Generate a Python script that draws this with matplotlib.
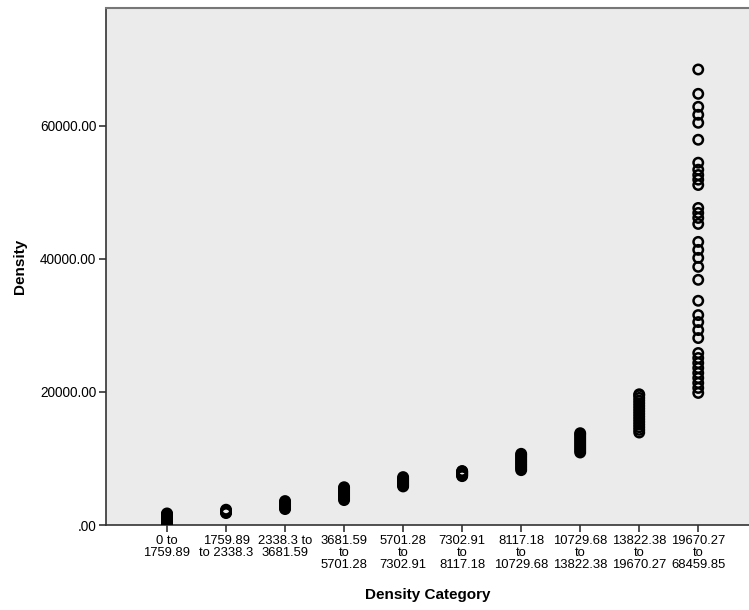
import matplotlib.pyplot as plt

plt.rcParams['font.family'] = ['Liberation Sans', 'DejaVu Sans']

# category labels on the x axis
categories = ['0 to\n1759.89', '1759.89\nto 2338.3', '2338.3 to\n3681.59',
              '3681.59\nto\n5701.28', '5701.28\nto\n7302.91', '7302.91\nto\n8117.18',
              '8117.18\nto\n10729.68', '10729.68\nto\n13822.38', '13822.38\nto\n19670.27',
              '19670.27\nto\n68459.85']

# density values observed in each category
cat0 = [0, 120, 260, 400, 520, 650, 780, 900, 1020, 1150, 1280, 1400, 1520, 1640, 1740]
cat1 = [1800, 1900, 2000, 2150, 2300]
cat2 = [2400, 2550, 2700, 2850, 3000, 3150, 3300, 3450, 3600]
cat3 = [3750, 3950, 4150, 4350, 4550, 4750, 4950, 5150, 5350, 5550, 5680]
cat4 = [5800, 5950, 6100, 6250, 6400, 6550, 6700, 6850, 7000, 7200]
cat5 = [7350, 7450, 7550, 7650, 7750, 7850, 7950, 8050, 8110]
cat6 = [8250, 8500, 8750, 9000, 9250, 9500, 9750, 10000, 10250, 10500, 10700]
cat7 = [10900, 11200, 11500, 11800, 12100, 12400, 12700, 13000, 13300, 13600, 13800]
cat8 = [13900, 14300, 14700, 15100, 15500, 15900, 16300, 16700, 17100, 17500,
        17900, 18300, 18700, 19100, 19500, 19650]
cat9 = [19850, 20600, 21350, 22100, 22850, 23600, 24350, 25100, 25850,
        28100, 29300, 30500, 31550, 33700, 36850, 38800, 40150, 41350, 42550,
        45250, 46150, 46900, 47650, 51100, 51900, 52600, 53400, 54450,
        57900, 60450, 61650, 62850, 64800, 68459.85]
groups = [cat0, cat1, cat2, cat3, cat4, cat5, cat6, cat7, cat8, cat9]

fig = plt.figure(figsize=(7.49, 6.10), dpi=100)
ax = fig.add_axes([0.1415, 0.1393, 0.8585, 0.8476])
ax.set_facecolor('#ebebeb')

for i, vals in enumerate(groups):
    ax.scatter([i] * len(vals), vals, s=46, facecolors='none',
               edgecolors='black', linewidths=1.8, zorder=3)

ax.set_xlim(-1.034, 9.86)
ax.set_ylim(0, 77700)
ax.set_xticks(range(len(categories)))
ax.set_xticklabels(categories, fontsize=9.4, linespacing=1.02)
ax.set_yticks([0, 20000, 40000, 60000])
ax.set_yticklabels(['.00', '20000.00', '40000.00', '60000.00'], fontsize=9.8)

for side in ['left', 'bottom']:
    ax.spines[side].set_color('#333333')
    ax.spines[side].set_linewidth(1.2)
ax.spines['top'].set_color('#777777')
ax.spines['top'].set_linewidth(1.5)
ax.spines['right'].set_visible(False)
ax.tick_params(axis='both', direction='out', length=5, width=1.2, color='#333333', pad=2)

ax.set_xlabel('Density Category', fontsize=11, fontweight='bold', labelpad=12)
ax.set_ylabel('Density', fontsize=11, fontweight='bold', labelpad=9)

fig.savefig('out.png', dpi=100)
